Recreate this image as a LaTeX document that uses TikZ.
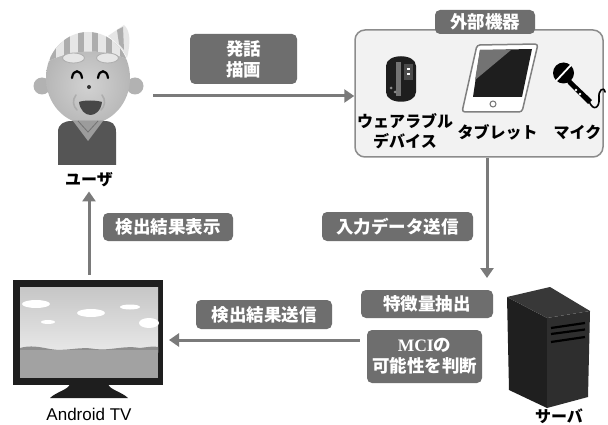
\documentclass[tikz,border=0pt]{standalone}
\usepackage{fontspec}
\newfontfamily\jp{Noto Sans CJK JP}
\newfontfamily\lsans{Liberation Sans}
\newfontfamily\lserif{Liberation Serif}
\usetikzlibrary{arrows.meta}

\definecolor{tagfill}{HTML}{6E6E6E}
\definecolor{arrowgray}{HTML}{7A7A7A}
\definecolor{panelfill}{HTML}{F2F2F2}
\definecolor{panelline}{HTML}{8C8C8C}
\definecolor{facein}{HTML}{D2D2D2}
\definecolor{faceout}{HTML}{B2B2B2}
\definecolor{hairlight}{HTML}{E6E6E6}
\definecolor{hairdark}{HTML}{ADADAD}
\definecolor{vest}{HTML}{555555}
\definecolor{collar}{HTML}{9C9C9C}
\definecolor{skytop}{HTML}{C6C6C6}
\definecolor{skybot}{HTML}{E8E8E8}
\definecolor{ground}{HTML}{A2A2A2}
\definecolor{hill}{HTML}{8E8E8E}
\definecolor{darkbox}{HTML}{1E1E1E}

\tikzset{
  tag/.style={fill=tagfill, rounded corners=5pt, text=white, inner sep=0pt,
    align=center, font=\jp\bfseries\fontsize{17.5}{21}\selectfont},
  flow/.style={draw=arrowgray, line width=3pt,
    -{Triangle[length=10pt,width=13pt]}},
  caption/.style={inner sep=0pt, align=center, text=black,
    font=\jp\bfseries\fontsize{16}{20.5}\selectfont},
  holder/.style={inner sep=0pt},
}

\begin{document}
\begin{tikzpicture}[x=1pt,y=-1pt]
\useasboundingbox[fill=white] (0,0) rectangle (608,425);

% ---------- user (elderly man) ----------
\node[holder, minimum width=130pt, minimum height=140pt] (user) at (88,96) {};
% ears
\fill[faceout] (42,86) circle (8.5);
\fill[faceout] (135,86) circle (8.5);
% head with face shading
\begin{scope}
  \clip (88,78) ellipse [x radius=42, y radius=46];
  \shade[inner color=facein, outer color=faceout] (88,85) circle (50);
  % striped hair
  \fill[hairlight] (30,20) -- (150,20) -- (150,74)
     .. controls (118,44) and (62,44) .. (30,74) -- cycle;
  \begin{scope}
    \clip (30,20) -- (150,20) -- (150,74)
       .. controls (118,44) and (62,44) .. (30,74) -- cycle;
    \foreach \sx in {50,64,78,92,106,120}
      \fill[hairdark] (\sx,20) rectangle ++(6,60);
  \end{scope}
\end{scope}
% hair tuft
\fill[hairlight] (108,36) -- (124,25) .. controls (130,30) and (131,42) .. (127,58)
   .. controls (122,48) and (116,42) .. (108,36) -- cycle;
\fill[hairdark] (117,30) -- (123,27) -- (124,50) -- (119,44) -- cycle;
% eyebrows
\filldraw[fill=hairlight, draw=hairdark, line width=0.8pt]
  (73.5,58) ellipse [x radius=11, y radius=5];
\filldraw[fill=hairlight, draw=hairdark, line width=0.8pt]
  (107.5,58) ellipse [x radius=11, y radius=5];
% eyes
\draw[black, line width=2.2pt, line cap=round] (72,78) .. controls (73,69) and (81,69) .. (82,78);
\draw[black, line width=2.2pt, line cap=round] (98,78) .. controls (99,69) and (107,69) .. (108,78);
% nose
\fill[black!80] (89,87) circle (2);
% cheek wrinkles
\draw[hairdark, line width=1.6pt, line cap=round] (76,95) .. controls (72,100) and (73,106) .. (77,110);
\draw[hairdark, line width=1.6pt, line cap=round] (102,95) .. controls (106,100) and (105,106) .. (101,110);
% mouth
\fill[black!72] (79,102) .. controls (84,100) and (96,100) .. (102,102)
   .. controls (101,111) and (95,115) .. (90.5,115)
   .. controls (85,115) and (80,110) .. (79,102) -- cycle;
% vest and collar
\fill[vest] (58,165) -- (58,132) .. controls (58,124) and (64,121) .. (72,121)
   -- (104,121) .. controls (112,121) and (116,124) .. (116,132) -- (116,165) -- cycle;
\fill[collar] (73,121) -- (103,121) -- (88,141) -- cycle;
\draw[black!55, line width=0.8pt] (78,121) -- (88,132) -- (98,121);
\node[caption] (userlbl) at (89,180) {ユーザ};

% ---------- speech / drawing label ----------
\node[tag, minimum width=107pt, minimum height=50pt] (speak) at (243.5,59) {発話\\描画};

% ---------- external devices panel ----------
\node[draw=panelline, line width=1.5pt, fill=panelfill, rounded corners=10pt,
      minimum width=248pt, minimum height=127pt, inner sep=0pt] (dev) at (479,93.5) {};
\node[tag, minimum width=100pt, minimum height=24pt] (devtitle) at (485,22) {外部機器};

% wearable band
\fill[darkbox] (386,66) .. controls (386,53) and (416,53) .. (416,66)
   -- (416,92) .. controls (416,105) and (386,105) .. (386,92) -- cycle;
\fill[black!55] (396,62) rectangle (401,96);
\fill[black!70] (404,64) rectangle (413,80);
\fill[white] (407,68) rectangle (410,70);
\fill[white] (407,73) rectangle (410,75);
\fill[black!45] (391,88) circle (1.5);
\fill[black!45] (395,92) circle (1.5);
\node[caption] (wearlbl) at (405,131) {ウェアラブル\\デバイス};

% tablet
\filldraw[fill=white, draw=black!50, line width=1.5pt, rounded corners=3pt]
  (477,45) -- (538,44) -- (522,112) -- (462,112) -- cycle;
\fill[darkbox] (480,50) -- (532,49) -- (522,97) -- (473,97) -- cycle;
\fill[black!55] (480,50) -- (511,50) -- (475,80) -- cycle;
\draw[black!55, line width=1pt] (493,104) circle (3);
\node[caption] (tablbl) at (497.5,132) {タブレット};

% microphone
\draw[black, line width=1.6pt, line cap=round] (589,101)
   .. controls (593,112) and (600,108) .. (599,98)
   .. controls (598,90) and (604,86) .. (605,92);
\fill[black] (565,74) -- (572,81) -- (592,100) -- (588,104) -- (568,84) -- cycle;
\fill[black] (563.5,73) circle (10.5);
\draw[white, line width=1.8pt] (556,81) -- (571,65);
\fill[white] (576,90) circle (1.3);
\fill[white] (580,94) circle (1.3);
\node[caption] (miclbl) at (577.5,132) {マイク};

% ---------- server side ----------
\coordinate (srvin) at (487,278);
\node[tag, minimum width=151pt, minimum height=29pt] (send) at (397.5,226.5) {入力データ送信};
\node[tag, minimum width=132pt, minimum height=28pt] (feat) at (427,304) {特徴量抽出};
\node[tag, minimum width=115pt, minimum height=53pt] (mci) at (424.5,356.5)
  {{\lserif\bfseries MCI}の\\可能性を判断};

\node[holder, minimum width=85pt, minimum height=121pt] (server) at (548.5,347.5) {};
\fill[black!88] (507,297) -- (547,318) -- (547,408) -- (509,390) -- cycle;
\fill[black!82] (547,318) -- (590,311) -- (588,397) -- (547,408) -- cycle;
\fill[black!78] (507,297) -- (550,287) -- (590,311) -- (547,318) -- cycle;
\draw[black, line width=2.2pt] (551,328) -- (585,323);
\draw[black, line width=2.2pt] (551,334) -- (585,329.5);
\draw[black, line width=2.2pt] (551,342) -- (585,337);
\node[caption] (srvlbl) at (559,416) {サーバ};

% ---------- TV ----------
\node[holder, minimum width=150pt, minimum height=125pt] (tv) at (89,337.5) {};
\coordinate (tvin) at (169,340);
\fill[darkbox] (13,280) rectangle (163,385);
\fill[darkbox] (70,384) -- (108,384) .. controls (110,390) and (122,392) .. (128,398)
   -- (50,398) .. controls (56,392) and (68,390) .. (70,384) -- cycle;
\shade[top color=skytop, bottom color=skybot] (20,287) rectangle (158,352);
\fill[white] (36,304) ellipse [x radius=14, y radius=4];
\fill[white] (91,313) ellipse [x radius=14, y radius=4];
\fill[white] (130,307) ellipse [x radius=10, y radius=2.5];
\fill[white] (48,322) ellipse [x radius=7, y radius=2];
\fill[white] (149,323) ellipse [x radius=10, y radius=5];
\fill[hill] (20,352) -- (20,348) .. controls (30,345) and (40,347) .. (50,349)
   .. controls (65,352) and (80,346) .. (95,349) .. controls (110,351) and (125,345) .. (140,348)
   .. controls (148,347) and (154,346) .. (158,347) -- (158,352) -- cycle;
\fill[ground] (20,350) rectangle (158,378);
\node[inner sep=0pt, font=\lsans\fontsize{17}{20}\selectfont] (tvlbl) at (89,414) {Android TV};

% ---------- connectors ----------
\draw[flow] (user.east) -- (user.east -| dev.west);
\draw[flow] (dev.south -| srvin) -- (srvin);
\draw[flow, shorten <=7pt] (mci.west |- tvin) -- (tvin);
\draw[flow] (tv.north) -- ([yshift=-4pt]userlbl.south);

\node[tag, minimum width=136pt, minimum height=29pt] (sendback) at (264,314.5) {検出結果送信};
\node[tag, minimum width=130pt, minimum height=28pt] (show) at (168,227) {検出結果表示};
\end{tikzpicture}
\end{document}
